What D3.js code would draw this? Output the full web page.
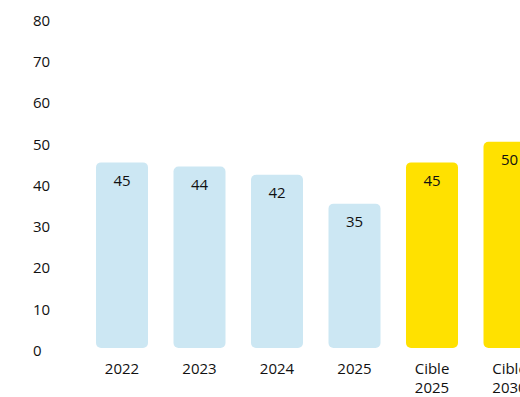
<!DOCTYPE html>
<html>
<head>
<meta charset="utf-8">
<script src="https://cdn.jsdelivr.net/npm/d3@7"></script>
<style>
  body { margin: 0; background: #fff; }
  svg { display: block; font-family: "Open Sans", "Noto Sans", sans-serif; }
</style>
</head>
<body>
<svg id="chart" width="520" height="397"></svg>
<script>
const categories = [["2022"], ["2023"], ["2024"], ["2025"], ["Cible", "2025"], ["Cible", "2030"]];
const values = [45, 44, 42, 35, 45, 50];
const isTarget = [false, false, false, false, true, true];
const yTicks = [0, 10, 20, 30, 40, 50, 60, 70, 80];

const width = 520;
const height = 397;

const svg = d3.select("#chart");

const x = d3.scaleBand()
            .domain(d3.range(values.length))
            .range([83.25, 548.25])
            .paddingInner(0.329)
            .paddingOuter(0.1645);

const y = d3.scaleLinear()
            .domain([0, 80])
            .range([348, 18]);

// y tick labels, no axis line
svg.append("g")
   .selectAll("text")
   .data(yTicks)
   .enter()
   .append("text")
   .attr("x", 33)
   .attr("y", d => y(d) + 2.5)
   .attr("dy", "0.35em")
   .attr("font-size", 15)
   .attr("fill", "#111")
   .text(d => d);

const bars = svg.append("g")
                .selectAll("g")
                .data(values)
                .enter()
                .append("g");

bars.append("rect")
    .attr("x", (d, i) => x(i))
    .attr("y", d => y(d))
    .attr("width", x.bandwidth())
    .attr("height", d => y(0) - y(d))
    .attr("rx", 5)
    .attr("ry", 5)
    .attr("fill", (d, i) => isTarget[i] ? "#ffe100" : "#cce7f3");

bars.append("text")
    .attr("x", (d, i) => x(i) + x.bandwidth() / 2)
    .attr("y", d => y(d) + 18)
    .attr("dy", "0.35em")
    .attr("text-anchor", "middle")
    .attr("font-size", 15)
    .attr("fill", "#111")
    .text(d => d);

// category labels
const xLabels = svg.append("g")
                   .selectAll("text")
                   .data(categories)
                   .enter()
                   .append("text")
                   .attr("text-anchor", "middle")
                   .attr("font-size", 15)
                   .attr("fill", "#111");

xLabels.selectAll("tspan")
       .data((d, i) => d.map(t => ({t, i})))
       .enter()
       .append("tspan")
       .attr("x", d => x(d.i) + x.bandwidth() / 2)
       .attr("y", (d, j) => 369 + 19 * j)
       .attr("dy", "0.35em")
       .text(d => d.t);
</script>
</body>
</html>
